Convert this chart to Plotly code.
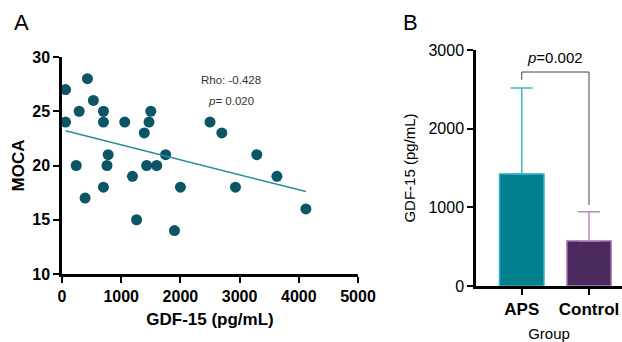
import plotly.graph_objects as go

# ---- Panel A data ----
gdf15 = [60, 60, 430, 290, 530, 700, 700, 1060, 1390, 1470, 1500, 780, 240, 760, 1430,
         1600, 1750, 1190, 390, 700, 1260, 1900, 2000, 2930, 2500, 2700, 3290, 3630, 4120]
moca = [27, 24, 28, 25, 26, 25, 24, 24, 23, 24, 25, 21, 20, 20, 20,
        20, 21, 19, 17, 18, 15, 14, 18, 18, 24, 23, 21, 19, 16]
fit_x = [60, 4120]
fit_y = [23.2, 17.6]
a_xticks = [0, 1000, 2000, 3000, 4000, 5000]
a_yticks = [10, 15, 20, 25, 30]

# ---- Panel B data ----
groups = ["APS", "Control"]
means = [1423, 576]
sds = [1093, 368]
b_yticks = [0, 1000, 2000, 3000]
p_label = "<i>p</i>=0.002"
bracket_top = 2720
bracket_left_bottom = 2620
bracket_right_bottom = 1030

W, H = 622, 342
def fx(px): return px / W
def fy(py): return (H - py) / H

fig = go.Figure()

fig.add_trace(go.Scatter(x=gdf15, y=moca, mode="markers",
                         marker=dict(color="#0b5566", size=11, line=dict(width=0)),
                         xaxis="x", yaxis="y", showlegend=False, cliponaxis=False))
fig.add_trace(go.Scatter(x=fit_x, y=fit_y, mode="lines",
                         line=dict(color="#2a8d9c", width=1.5),
                         xaxis="x", yaxis="y", showlegend=False))

bar_fill = ["#00808f", "#4b2a60"]
bar_edge = ["#2fb0c0", "#b78bc3"]
err_col = ["#3cb8c8", "#b78bc3"]
for i, g in enumerate(groups):
    fig.add_trace(go.Bar(x=[g], y=[means[i]], width=0.66,
                         marker=dict(color=bar_fill[i], line=dict(color=bar_edge[i], width=1.5)),
                         error_y=dict(type="data", array=[sds[i]], arrayminus=[0], symmetric=False,
                                      color=err_col[i], thickness=1.5, width=11),
                         xaxis="x2", yaxis="y2", showlegend=False))

axis_common = dict(showline=True, linecolor="black", linewidth=2.5, ticks="outside",
                   ticklen=6, tickwidth=2, tickcolor="black", showgrid=False, zeroline=False,
                   automargin=False)

fig.update_layout(
    width=W, height=H, margin=dict(l=0, r=0, t=0, b=0, autoexpand=False),
    plot_bgcolor="white", paper_bgcolor="white",
    font=dict(family="Liberation Sans, Arial, sans-serif", color="black"),
    xaxis=dict(domain=[fx(62), fx(358)], range=[0, 5000], tickvals=a_xticks,
               tickfont=dict(size=16, weight="bold"),
               title=dict(text="<b>GDF-15 (pg/mL)</b>", font=dict(size=17), standoff=10),
               anchor="y", **axis_common),
    yaxis=dict(domain=[fy(274), fy(57)], range=[10, 30], tickvals=a_yticks,
               tickfont=dict(size=16, weight="bold"),
               title=dict(text="<b>MOCA</b>", font=dict(size=17), standoff=4),
               anchor="x", **axis_common),
    xaxis2=dict(domain=[fx(476), 1.0], range=[-0.68, 1.49], type="category",
                tickfont=dict(size=17, weight="bold"),
                title=dict(text="Group", font=dict(size=15), standoff=11),
                anchor="y2", **axis_common),
    yaxis2=dict(domain=[fy(286), fy(50)], range=[0, 3000], tickvals=b_yticks,
                tickfont=dict(size=16),
                title=dict(text="GDF-15 (pg/mL)", font=dict(size=15), standoff=10),
                anchor="x2", **axis_common),
    shapes=[
        dict(type="path", xref="x2", yref="y2", line=dict(color="#444444", width=1),
             path=f"M 0,{bracket_left_bottom} L 0,{bracket_top} L 1,{bracket_top} L 1,{bracket_right_bottom}"),
    ],
    annotations=[
        dict(text="A", x=fx(12), y=fy(22), xref="paper", yref="paper", showarrow=False,
             xanchor="left", yanchor="middle", font=dict(size=22)),
        dict(text="B", x=fx(401), y=fy(22), xref="paper", yref="paper", showarrow=False,
             xanchor="left", yanchor="middle", font=dict(size=22)),
        dict(text="Rho: -0.428", x=fx(231), y=fy(72), xref="paper", yref="paper", showarrow=False,
             font=dict(size=11.5, color="#333333")),
        dict(text="<i>p</i>= 0.020", x=fx(231), y=fy(93), xref="paper", yref="paper", showarrow=False,
             font=dict(size=11.5, color="#333333")),
        dict(text=p_label, x=0.5, y=bracket_top, xref="x2", yref="y2", showarrow=False,
             yanchor="bottom", yshift=4, font=dict(size=15)),
    ],
)

fig.write_html("out.html")
